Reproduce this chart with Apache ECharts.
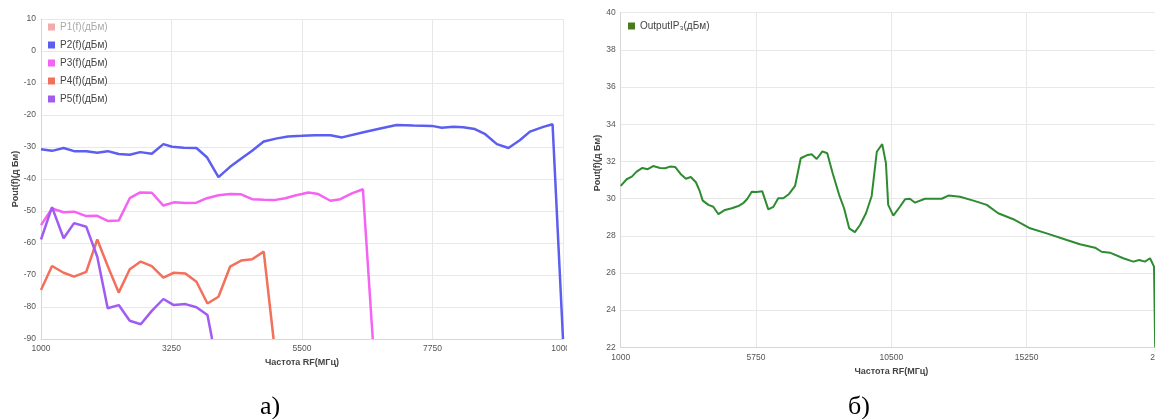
<!DOCTYPE html>
<html><head><meta charset="utf-8">
<script src="https://cdn.jsdelivr.net/npm/echarts@6/dist/echarts.min.js"></script>
<style>
html,body{margin:0;padding:0;background:#fff;width:1159px;height:419px;overflow:hidden}
#clipA{position:absolute;left:0;top:0;width:567px;height:419px;overflow:hidden}
#clipB{position:absolute;left:567px;top:0;width:588px;height:419px;overflow:hidden}
#chartA{width:600px;height:419px}
#chartB{width:650px;height:419px}
</style></head><body>
<div id="clipA"><div id="chartA"></div></div>
<div id="clipB"><div id="chartB"></div></div>
<script>
// ---- Chart a) ----
const seriesNamesA = ['P1(f)(дБм)', 'P2(f)(дБм)', 'P3(f)(дБм)', 'P4(f)(дБм)', 'P5(f)(дБм)'];
const xTicksA = [1000, 3250, 5500, 7750, 10000];
const yTicksA = [-90, -80, -70, -60, -50, -40, -30, -20, -10, 0, 10];

const p1Freq = [];
const p1Vals = [];

const p2Freq = [1000,1190,1390,1570,1780,1970,2150,2340,2530,2710,2910,3110,3260,3460,3680,3860,4060,4260,4460,4640,4840,5070,5260,5500,5730,5990,6190,6560,6850,7130,7420,7740,7910,8110,8280,8480,8660,8860,9060,9260,9430,9660,9820,10000];
const p2Vals = [-30.7,-31.2,-30.3,-31.3,-31.3,-31.8,-31.3,-32.2,-32.4,-31.6,-32.1,-29.1,-29.9,-30.2,-30.3,-33.2,-39.4,-36.2,-33.5,-31.2,-28.3,-27.3,-26.7,-26.5,-26.3,-26.3,-27.0,-25.4,-24.2,-23.1,-23.3,-23.4,-24.0,-23.7,-23.8,-24.4,-26.0,-29.1,-30.3,-27.8,-25.2,-23.7,-22.9,-90];

const p3Freq = [1000,1190,1390,1570,1780,1970,2150,2340,2530,2710,2910,3110,3290,3490,3680,3860,4060,4260,4450,4640,4840,5020,5210,5400,5500,5610,5780,5990,6160,6360,6550,6720];
const p3Vals = [-54.4,-49.2,-50.4,-50.2,-51.6,-51.5,-53.1,-53.0,-46.0,-44.2,-44.3,-48.3,-47.3,-47.5,-47.4,-46.0,-45.1,-44.7,-44.8,-46.3,-46.5,-46.6,-46.0,-45.1,-44.7,-44.2,-44.7,-46.8,-46.3,-44.5,-43.2,-90];

const p4Freq = [1000,1190,1390,1570,1780,1970,2150,2340,2530,2720,2910,3110,3290,3490,3680,3870,4060,4260,4450,4640,4840,5010];
const p4Vals = [-74.7,-67.2,-69.3,-70.5,-69.0,-58.9,-67.2,-75.5,-68.2,-65.8,-67.2,-70.8,-69.3,-69.5,-72.1,-78.9,-76.8,-67.4,-65.5,-65.1,-62.7,-90];

const p5Freq = [1000,1190,1390,1570,1780,1970,2150,2340,2530,2720,2910,3110,3290,3490,3680,3870,3950];
const p5Vals = [-58.9,-48.8,-58.5,-53.8,-54.9,-64.3,-80.4,-79.4,-84.3,-85.4,-81.2,-77.5,-79.4,-79.1,-80.1,-82.5,-90];

// ---- Chart б) ----
const seriesNameB = 'OutputIP₃(дБм)';
const xTicksB = [1000, 5750, 10500, 15250, 20000];
const yTicksB = [22, 24, 26, 28, 30, 32, 34, 36, 38, 40];

const ipFreq = [1000,1210,1390,1560,1760,1950,2140,2380,2560,2730,2910,3110,3290,3460,3640,3760,3880,4080,4250,4430,4660,4900,5130,5300,5440,5600,5770,5970,6180,6360,6530,6710,6910,7120,7320,7530,7700,7880,8080,8250,8440,8670,8840,9020,9220,9400,9610,9810,9990,10180,10310,10390,10570,10800,10980,11150,11330,11680,12270,12500,12910,13380,13850,14250,14780,15370,15950,16660,17120,17650,17880,18170,18640,18990,19200,19400,19580,19720,19760];
const ipVals = [30.68,31.04,31.18,31.45,31.65,31.58,31.75,31.65,31.63,31.72,31.70,31.31,31.07,31.16,30.88,30.46,29.89,29.66,29.56,29.16,29.39,29.48,29.60,29.75,29.98,30.37,30.36,30.39,29.42,29.56,30.02,30.02,30.25,30.68,32.17,32.33,32.38,32.13,32.54,32.44,31.36,30.19,29.48,28.40,28.20,28.58,29.21,30.14,32.52,32.93,31.90,29.66,29.08,29.56,29.96,29.99,29.78,29.99,29.99,30.16,30.10,29.89,29.66,29.21,28.89,28.40,28.13,27.77,27.54,27.36,27.14,27.09,26.79,26.61,26.70,26.61,26.79,26.34,22];

const zip = (xs, ys) => xs.map((x, i) => [x, ys[i]]);
const FONT = '"Liberation Sans", Arial, sans-serif';
const plain = v => String(v);

const axisCommon = {
  axisLine: { show: true, onZero: false, lineStyle: { color: '#d6d6d6', width: 1 } },
  axisTick: { show: false },
  splitLine: { show: true, lineStyle: { color: '#e8e8e8', width: 1 } },
  axisLabel: { fontSize: 8.5, color: '#555', fontFamily: FONT, formatter: plain },
  nameTextStyle: { fontSize: 9, fontWeight: 'bold', color: '#444', fontFamily: FONT },
  nameLocation: 'middle'
};

const colorsA = ['#f5a9a9', '#5c5ef0', '#f463f2', '#f2705c', '#a05cf0'];
const dataA = [zip(p1Freq, p1Vals), zip(p2Freq, p2Vals), zip(p3Freq, p3Vals), zip(p4Freq, p4Vals), zip(p5Freq, p5Vals)];

const chartA = echarts.init(document.getElementById('chartA'), null, { renderer: 'canvas' });
chartA.setOption({
  animation: false,
  textStyle: { fontFamily: FONT },
  color: colorsA,
  grid: { left: 41, top: 19, width: 522, height: 320, containLabel: false },
  legend: {
    orient: 'vertical', left: 43, top: 17, icon: 'rect', itemWidth: 7, itemHeight: 7, itemGap: 8,
    textStyle: { fontSize: 10, color: '#444', fontFamily: FONT },
    data: seriesNamesA.map((n, i) => i === 0 ? { name: n, textStyle: { color: '#aaa' } } : { name: n })
  },
  xAxis: Object.assign({}, axisCommon, {
    type: 'value', min: xTicksA[0], max: xTicksA[xTicksA.length - 1], interval: xTicksA[1] - xTicksA[0],
    name: 'Частота RF(МГц)', nameGap: 18,
    axisLabel: Object.assign({}, axisCommon.axisLabel, { margin: 5 })
  }),
  yAxis: Object.assign({}, axisCommon, {
    type: 'value', min: yTicksA[0], max: yTicksA[yTicksA.length - 1], interval: yTicksA[1] - yTicksA[0],
    name: 'Pout(f)(д Бм)', nameGap: 21, nameMoveOverlap: false,
    axisLabel: Object.assign({}, axisCommon.axisLabel, { margin: 5 })
  }),
  series: seriesNamesA.map((n, i) => ({
    name: n, type: 'line', data: dataA[i], showSymbol: false, symbol: 'none',
    lineStyle: { width: 2.5, color: colorsA[i] }, itemStyle: { color: colorsA[i] }
  })),
  graphic: [{ type: 'text', left: 260, top: 394, style: { text: 'а)', font: '26px "Liberation Serif", serif', fill: '#000' } }]
});

const chartB = echarts.init(document.getElementById('chartB'), null, { renderer: 'canvas' });
chartB.setOption({
  animation: false,
  textStyle: { fontFamily: FONT },
  grid: { left: 53.7, top: 12.7, width: 541.3, height: 334.6, containLabel: false },
  legend: {
    left: 56, top: 16, icon: 'rect', itemWidth: 7, itemHeight: 7,
    textStyle: { fontSize: 10, color: '#444', fontFamily: FONT },
    data: [{ name: seriesNameB, itemStyle: { color: '#4a7a1c' } }]
  },
  xAxis: Object.assign({}, axisCommon, {
    type: 'value', min: xTicksB[0], max: xTicksB[xTicksB.length - 1], interval: xTicksB[1] - xTicksB[0],
    name: 'Частота RF(МГц)', nameGap: 19,
    axisLabel: Object.assign({}, axisCommon.axisLabel, { margin: 6 })
  }),
  yAxis: Object.assign({}, axisCommon, {
    type: 'value', min: yTicksB[0], max: yTicksB[yTicksB.length - 1], interval: yTicksB[1] - yTicksB[0],
    name: 'Pout(f)(д Бм)', nameGap: 19, nameMoveOverlap: false,
    nameTextStyle: Object.assign({}, axisCommon.nameTextStyle, { padding: [0, 0, 0, 34] }),
    axisLabel: Object.assign({}, axisCommon.axisLabel, { margin: 5 })
  }),
  series: [{
    name: seriesNameB, type: 'line', data: zip(ipFreq, ipVals), showSymbol: false, symbol: 'none',
    lineStyle: { width: 2, color: '#2e8b30' }, itemStyle: { color: '#2e8b30' }
  }],
  graphic: [{ type: 'text', left: 281, top: 394, style: { text: 'б)', font: '26px "Liberation Serif", serif', fill: '#000' } }]
});
</script>
</body></html>
